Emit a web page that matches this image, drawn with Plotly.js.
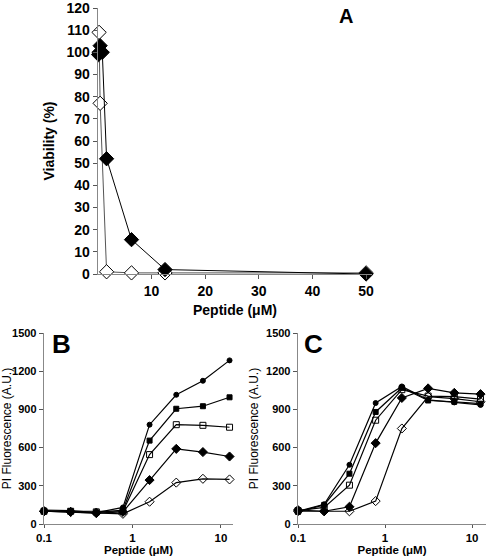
<!DOCTYPE html>
<html><head><meta charset="utf-8">
<script src="https://cdn.plot.ly/plotly-3.0.1.min.js"></script>
<style>html,body{margin:0;padding:0;background:#fff}#chart{width:488px;height:558px}</style>
</head><body><div id="chart"></div>
<script>
// Panel A: viability vs peptide concentration
const concAOpen = [0.2, 0.4, 1.6, 6.25, 12.5, 50];
const viabOpen = [109, 77, 1, 0.5, 0.5, 0.5];
const concAFilled = [0.1, 0.2, 0.4, 0.8, 1.6, 6.25, 12.5, 50];
const viabFilled = [99, 100, 103, 100, 52, 15.5, 2, 0];
const xTicksA = [10, 20, 30, 40, 50];
const yTicksA = [0, 10, 20, 30, 40, 50, 60, 70, 80, 90, 100, 110, 120];

// Panels B and C: PI fluorescence vs peptide concentration
const conc = [0.1, 0.2, 0.39, 0.78, 1.56, 3.125, 6.25, 12.5];
const b1 = [110, 105, 90, 130, 780, 1015, 1125, 1285];
const b2 = [105, 100, 90, 110, 655, 905, 925, 995];
const b3 = [100, 100, 95, 100, 545, 780, 775, 760];
const b4 = [100, 95, 85, 95, 345, 590, 565, 530];
const b5 = [100, 95, 90, 80, 175, 325, 355, 350];
const c1 = [100, 155, 465, 950, 1080, 975, 955, 935];
const c2 = [95, 150, 395, 880, 1070, 970, 960, 945];
const c3 = [105, 130, 305, 815, 1055, 1005, 1000, 980];
const c4 = [110, 100, 135, 635, 990, 1065, 1030, 1020];
const c5 = [100, 100, 100, 180, 750, 1000, 985, 960];
const logTickVals = [0.1, 1, 10];
const logTickText = ['0.1', '1', '10'];
const yTicksBC = [0, 300, 600, 900, 1200, 1500];

const W = 488, H = 558;
const px = (a, b) => [a / W, b / W];
const py = (top, bottom) => [1 - bottom / H, 1 - top / H];

const markerStyles = [
  {symbol: 'circle', size: 5, color: '#000', line: {color: '#000', width: 1}},
  {symbol: 'square', size: 5, color: '#000', line: {color: '#000', width: 1}},
  {symbol: 'square-open', size: 6, color: '#000', line: {color: '#000', width: 1}},
  {symbol: 'diamond', size: 7, color: '#000', line: {color: '#000', width: 1}},
  {symbol: 'diamond-open', size: 7, color: '#000', line: {color: '#000', width: 1}}
];
const mkTraces = (series, xa, ya) => series.map((ys, i) => ({
  x: conc, y: ys, xaxis: xa, yaxis: ya, type: 'scatter', mode: 'lines+markers',
  line: {color: '#000', width: 1.2}, marker: markerStyles[i], showlegend: false,
  cliponaxis: false
}));

const traces = [
  {x: concAOpen, y: viabOpen, xaxis: 'x', yaxis: 'y', type: 'scatter', mode: 'lines+markers',
   line: {color: '#555', width: 1}, cliponaxis: false, showlegend: false,
   marker: {symbol: 'diamond', size: 11, color: '#fff', line: {color: '#000', width: 1}}},
  {x: concAFilled, y: viabFilled, xaxis: 'x', yaxis: 'y', type: 'scatter', mode: 'lines+markers',
   line: {color: '#000', width: 1}, cliponaxis: false, showlegend: false,
   marker: {symbol: 'diamond', size: 11, color: '#000', line: {color: '#000', width: 1}}},
  ...mkTraces([b1, b2, b3, b4, b5], 'x2', 'y2'),
  ...mkTraces([c1, c2, c3, c4, c5], 'x3', 'y3')
];

const boldTick = (sz) => ({family: 'Liberation Sans, Arial, sans-serif', size: sz, color: '#000', weight: 'bold'});
const axisCommon = {
  showgrid: false, zeroline: false, showline: true, linecolor: '#888', linewidth: 1.3,
  ticks: 'outside', ticklen: 4, tickcolor: '#555', tickwidth: 1, fixedrange: true,
  ticklabeloverflow: 'allow'
};

const layout = {
  width: W, height: H, margin: {l: 0, r: 0, t: 0, b: 0},
  paper_bgcolor: '#fff', plot_bgcolor: 'rgba(0,0,0,0)', showlegend: false,
  font: {family: 'Liberation Sans, Arial, sans-serif', color: '#000'},
  xaxis: Object.assign({}, axisCommon, {
    domain: px(98, 372), range: [0, 51.1], anchor: 'y',
    tickvals: xTicksA, tickfont: boldTick(14),
    title: {text: 'Peptide (μM)', font: {size: 14, weight: 'bold'}, standoff: 7}
  }),
  yaxis: Object.assign({}, axisCommon, {
    domain: py(8, 274), range: [0, 120], anchor: 'x',
    tickvals: yTicksA, tickfont: boldTick(14),
    title: {text: 'Viability (%)', font: {size: 14, weight: 'bold'}, standoff: 8}
  }),
  xaxis2: Object.assign({}, axisCommon, {
    domain: px(44, 233), type: 'log', range: [-1, 1.136], anchor: 'y2', ticklen: 3,
    tickvals: logTickVals, ticktext: logTickText, tickfont: boldTick(11.5),
    title: {text: 'Peptide (μM)', font: {size: 11.5, weight: 'bold'}, standoff: 3}
  }),
  yaxis2: Object.assign({}, axisCommon, {
    domain: py(333, 524), range: [0, 1500], anchor: 'x2',
    tickvals: yTicksBC, tickfont: boldTick(11),
    title: {text: 'PI Fluorescence (A.U.)', font: {size: 12}, standoff: 4}
  }),
  xaxis3: Object.assign({}, axisCommon, {
    domain: px(298, 486), type: 'log', range: [-1, 1.16], anchor: 'y3', ticklen: 3,
    tickvals: logTickVals, ticktext: logTickText, tickfont: boldTick(11.5),
    title: {text: 'Peptide (μM)', font: {size: 11.5, weight: 'bold'}, standoff: 3}
  }),
  yaxis3: Object.assign({}, axisCommon, {
    domain: py(333, 524), range: [0, 1500], anchor: 'x3',
    tickvals: yTicksBC, tickfont: boldTick(11),
    title: {text: 'PI Fluorescence (A.U.)', font: {size: 12}, standoff: 4}
  }),
  annotations: [
    {text: 'A', xref: 'paper', yref: 'paper', x: 346 / W, y: 1 - 16 / H, showarrow: false,
     font: {size: 20, weight: 'bold', color: '#000'}, xanchor: 'center', yanchor: 'middle'},
    {text: 'B', xref: 'paper', yref: 'paper', x: 61 / W, y: 1 - 344 / H, showarrow: false,
     font: {size: 26, weight: 'bold', color: '#000'}, xanchor: 'center', yanchor: 'middle'},
    {text: 'C', xref: 'paper', yref: 'paper', x: 313 / W, y: 1 - 344 / H, showarrow: false,
     font: {size: 26, weight: 'bold', color: '#000'}, xanchor: 'center', yanchor: 'middle'}
  ]
};

Plotly.newPlot('chart', traces, layout, {displayModeBar: false, staticPlot: true});
</script></body></html>
